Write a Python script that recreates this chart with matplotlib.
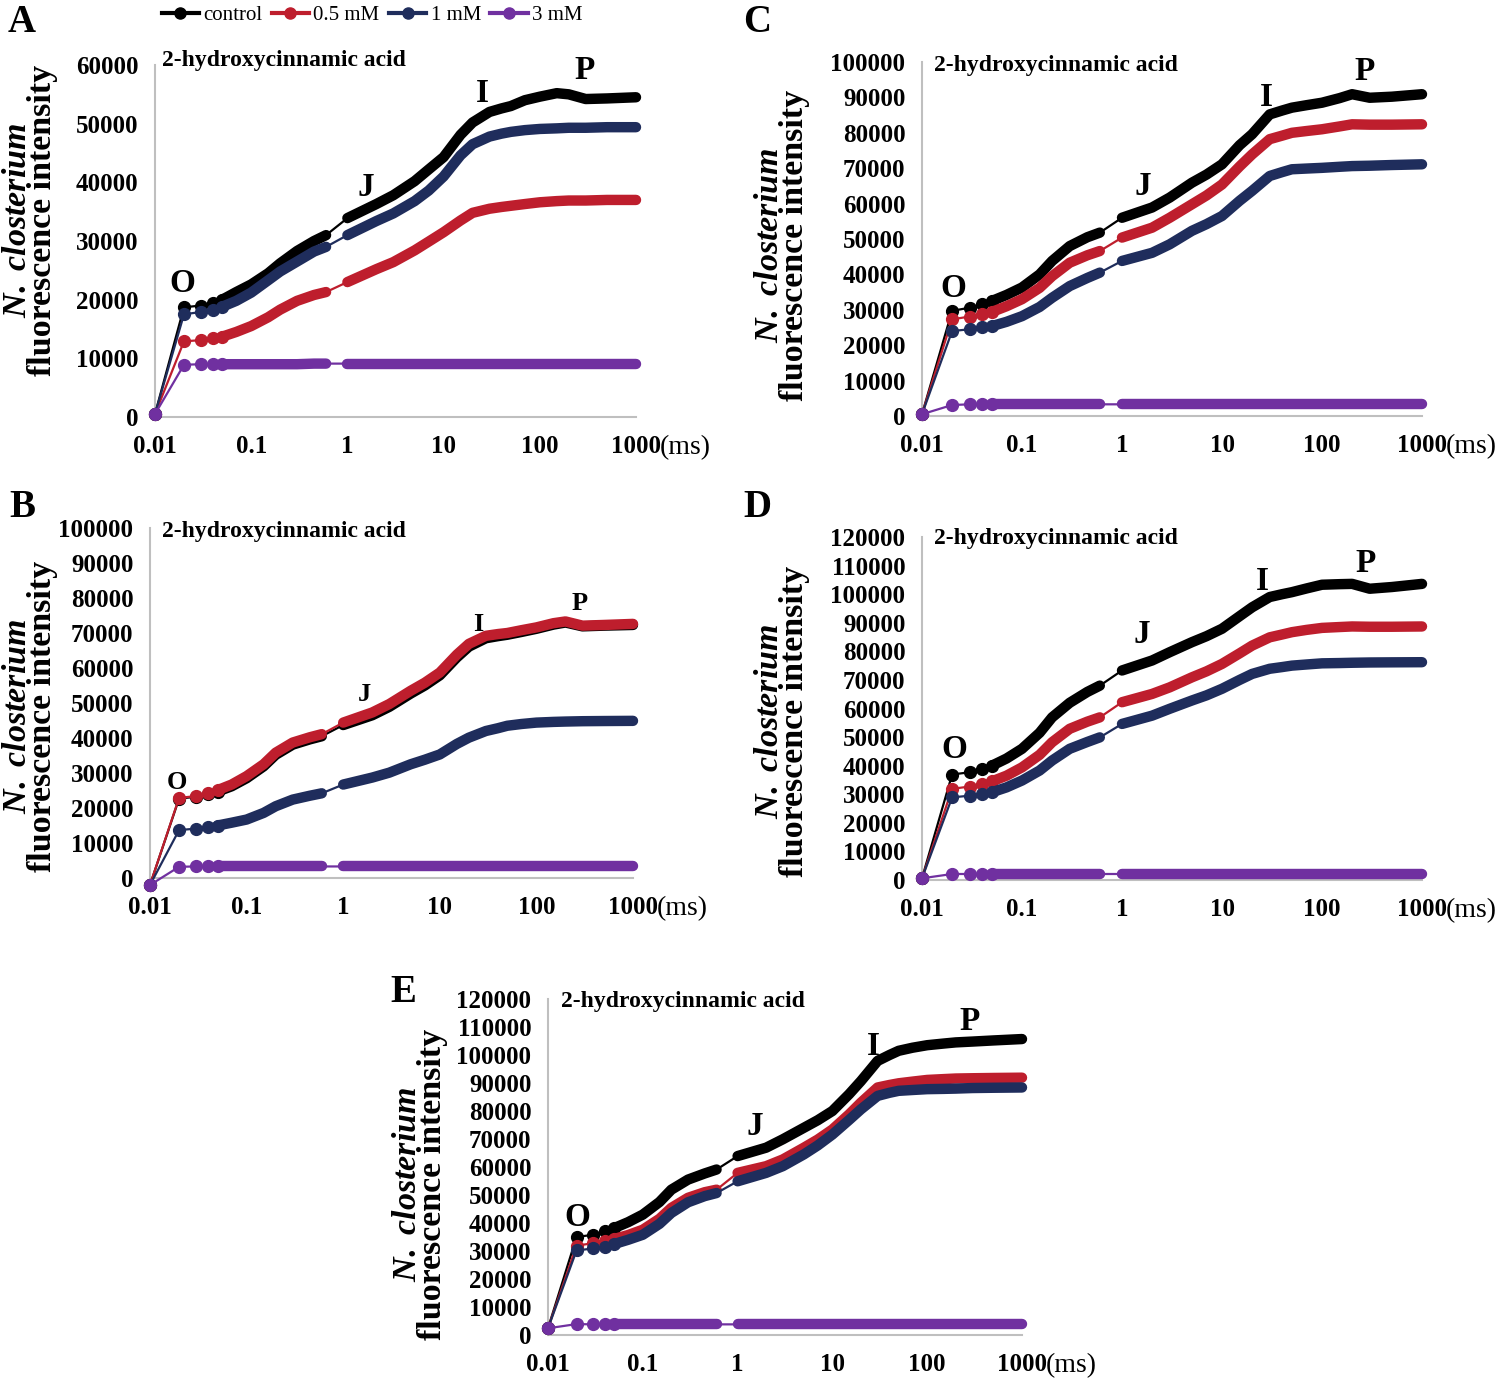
import numpy as np
import matplotlib
matplotlib.use("Agg")
import matplotlib.pyplot as plt
from matplotlib.lines import Line2D

plt.rcParams['font.family'] = ['Liberation Serif', 'DejaVu Serif']
plt.rcParams['mathtext.fontset'] = 'custom'
plt.rcParams['mathtext.it'] = 'Liberation Serif:italic:bold'
plt.rcParams['mathtext.rm'] = 'Liberation Serif:bold'

# sampling times of the OJIP transient (ms)
times = [0.01, 0.02, 0.03, 0.04, 0.05, 0.07, 0.1, 0.15, 0.2, 0.3, 0.45, 0.6,
         1, 2, 3, 5, 7, 10, 15, 20, 30, 40, 50, 70, 100, 150, 200, 300, 500, 1000]

treatments = ['control', '0.5 mM', '1 mM', '3 mM']
colors = ['#000000', '#BE1E2D', '#1F2D5C', '#7030A0']

A_control = [500, 18700, 19000, 19400, 20000, 21300, 22600, 24500, 26200, 28300, 30000, 31000,
             33900, 36300, 37800, 40200, 42200, 44300, 48100, 50200, 52000, 52600, 53000, 54000,
             54600, 55200, 55000, 54200, 54300, 54500]
A_05 = [500, 12900, 13100, 13400, 13700, 14500, 15500, 17000, 18300, 19800, 20800, 21300,
        23000, 25200, 26400, 28400, 29900, 31500, 33500, 34800, 35500, 35800, 36000, 36300,
        36600, 36800, 36900, 36900, 37000, 37000]
A_1 = [500, 17500, 17900, 18300, 18800, 19800, 21200, 23300, 24800, 26500, 28200, 29000,
       31000, 33400, 34700, 36800, 38600, 41000, 44600, 46500, 47800, 48300, 48600, 48900,
       49100, 49200, 49300, 49300, 49400, 49400]
A_3 = [500, 8900, 9000, 9000, 9000, 9000, 9000, 9000, 9000, 9000, 9100, 9100,
       9100, 9100, 9100, 9100, 9100, 9100, 9100, 9100, 9100, 9100, 9100, 9100,
       9100, 9100, 9100, 9100, 9100, 9100]

B_control = [-2000, 22700, 23200, 23900, 24700, 26200, 28500, 31900, 35200, 38100, 39600, 40500,
             43700, 46500, 48900, 52700, 55000, 57900, 63000, 66100, 68500, 69100, 69500, 70300,
             71200, 72400, 73000, 71900, 72100, 72300]
B_05 = [-2000, 22900, 23400, 24200, 25100, 26700, 29100, 32500, 35800, 38700, 40200, 41100,
        44400, 47300, 49700, 53500, 55800, 58700, 63800, 66900, 69200, 69700, 70000, 70800,
        71600, 72800, 73300, 72100, 72300, 72600]
B_1 = [-2000, 13700, 14100, 14500, 15000, 15800, 16700, 18600, 20500, 22400, 23500, 24200,
       26700, 28700, 30100, 32500, 33800, 35300, 38300, 40100, 42000, 42800, 43500, 44000,
       44400, 44600, 44700, 44800, 44850, 44900]
B_3 = [-2000, 3200, 3300, 3300, 3300, 3300, 3300, 3300, 3300, 3300, 3300, 3300,
       3300, 3300, 3300, 3300, 3300, 3300, 3300, 3300, 3300, 3300, 3300, 3300,
       3300, 3300, 3300, 3300, 3300, 3300]

C_control = [500, 29700, 30600, 31500, 32500, 34200, 36300, 40000, 43800, 48000, 50500, 51800,
             56000, 58900, 61700, 65900, 68200, 71100, 76500, 79600, 85200, 86300, 87100, 87800,
             88500, 89800, 90900, 89900, 90200, 90900]
C_05 = [500, 27300, 28100, 28700, 29400, 31000, 33000, 36200, 39500, 43300, 45400, 46600,
        50400, 53200, 56000, 59800, 62300, 65400, 70500, 73900, 78200, 79200, 80000, 80500,
        81000, 81800, 82400, 82300, 82300, 82400]
C_1 = [500, 24000, 24500, 25000, 25400, 26600, 28200, 30800, 33400, 36700, 39000, 40500,
       43800, 46100, 48500, 52300, 54200, 56500, 60800, 63600, 67800, 68900, 69700, 69900,
       70100, 70400, 70600, 70700, 70900, 71100]
C_3 = [500, 3100, 3300, 3300, 3300, 3300, 3300, 3300, 3300, 3300, 3300, 3300,
       3300, 3300, 3300, 3300, 3300, 3300, 3300, 3300, 3300, 3300, 3300, 3300,
       3300, 3300, 3300, 3300, 3300, 3300]

D_control = [600, 36900, 37700, 38900, 40000, 42500, 45900, 51500, 56900, 62000, 65800, 68000,
             73300, 76800, 79700, 83200, 85300, 87900, 92300, 95400, 99000, 100000, 100700, 102000,
             103300, 103500, 103600, 101900, 102500, 103600]
D_05 = [600, 31900, 32700, 33600, 34500, 36500, 39400, 43800, 48200, 52900, 55400, 56900,
        62200, 65100, 67400, 70900, 73000, 75600, 79300, 82000, 84900, 85900, 86700, 87500,
        88200, 88500, 88700, 88600, 88600, 88700]
D_1 = [600, 28900, 29500, 30100, 30700, 32400, 34800, 38300, 41800, 45900, 48300, 49900,
       54600, 57500, 59900, 62800, 64600, 66900, 70000, 72100, 73900, 74500, 75000, 75400,
       75800, 75900, 76000, 76100, 76150, 76200]
D_3 = [600, 2100, 2100, 2100, 2100, 2100, 2100, 2100, 2100, 2100, 2100, 2100,
       2100, 2100, 2100, 2100, 2100, 2100, 2100, 2100, 2100, 2100, 2100, 2100,
       2100, 2100, 2100, 2100, 2100, 2100]

E_control = [2400, 35000, 35800, 37000, 38200, 40300, 43000, 47500, 51900, 55500, 57700, 59100,
             63900, 66900, 69900, 74000, 76700, 80000, 86000, 90700, 97900, 100000, 101500, 102600,
             103500, 104100, 104500, 104800, 105200, 105700]
E_05 = [2400, 31900, 32800, 33400, 34300, 35700, 37600, 41500, 45400, 49000, 51000, 51900,
        57900, 60300, 62700, 66900, 69800, 73400, 78800, 83000, 88400, 89300, 89900, 90500,
        91100, 91400, 91600, 91700, 91800, 91900]
E_1 = [2400, 30200, 30900, 31600, 32500, 34000, 35800, 39700, 43600, 47400, 49600, 50700,
       54900, 57900, 60300, 64500, 67700, 71600, 76800, 80600, 85400, 86500, 87200, 87500,
       87800, 87900, 88000, 88200, 88300, 88400]
E_3 = [2400, 3900, 3800, 3800, 3800, 3800, 3800, 3800, 3800, 3800, 3800, 3800,
       3800, 3800, 3800, 3800, 3800, 3800, 3800, 3800, 3800, 3800, 3800, 3800,
       3800, 3800, 3800, 3800, 3800, 3800]

x_ticks = [0.01, 0.1, 1, 10, 100, 1000]
x_labels = ['0.01', '0.1', '1', '10', '100', '1000']

W, H = 1505, 1380
fig = plt.figure(figsize=(W / 100, H / 100), dpi=100)


def make_axes(x0, x1, y0, ytop):
    return fig.add_axes([x0 / W, 1 - y0 / H, (x1 - x0) / W, (y0 - ytop) / H])


def draw_panel(ax, series, ymax, letter, letter_xy, ylab_xy, title_xy, ojip, ojip_size=24):
    t = np.array(times)
    gap = times.index(1)
    for vals, c in zip(series, colors):
        v = np.array(vals)
        ax.plot(t, v, color=c, lw=1.6, clip_on=False, zorder=3)
        ax.plot(t[:5], v[:5], 'o', color=c, ms=8.5, clip_on=False, zorder=3)
        for a, b in [(4, gap), (gap, len(t))]:
            ax.plot(t[a:b], v[a:b], color=c, lw=7.5, solid_capstyle='round',
                    solid_joinstyle='round', clip_on=False, zorder=3)
    ax.set_xscale('log')
    ax.set_xlim(0.01, 1000)
    ax.set_ylim(0, ymax)
    ax.set_xticks(x_ticks)
    ax.set_xticklabels(x_labels)
    ax.minorticks_off()
    ax.set_yticks(np.arange(0, ymax + 1, 10000))
    ax.tick_params(length=0, labelsize=18)
    ax.tick_params(axis='x', pad=13)
    ax.tick_params(axis='y', pad=12)
    for lab in ax.get_xticklabels() + ax.get_yticklabels():
        lab.set_fontweight('bold')
    for s in ['top', 'right']:
        ax.spines[s].set_visible(False)
    for s in ['left', 'bottom']:
        ax.spines[s].set_color('#BFBFBF')
        ax.spines[s].set_linewidth(1.5)
    ax.patch.set_alpha(0)

    ax.text(title_xy[0], title_xy[1], '2-hydroxycinnamic acid', transform=ax.transAxes,
            fontsize=17, fontweight='bold', ha='left', va='center')
    ax.annotate('(ms)', xy=(1, 0), xycoords='axes fraction', xytext=(17, -22),
                textcoords='offset points', fontsize=20, ha='left', va='center')
    for lbl, (tx, ty) in zip('OJIP', ojip):
        ax.text(tx, ty, lbl, fontsize=ojip_size, fontweight='bold', ha='center', va='center')

    fig.text(letter_xy[0] / W, 1 - letter_xy[1] / H, letter, fontsize=28,
             fontweight='bold', ha='center', va='center')
    fig.text(ylab_xy[0] / W, 1 - ylab_xy[1] / H,
             r'$\mathit{N.\ closterium}$' + '\nfluorescence intensity',
             rotation=90, fontsize=24.5, fontweight='bold', ha='center', va='center',
             multialignment='center', linespacing=0.76)


axA = make_axes(155, 636, 417, 65)
draw_panel(axA, [A_control, A_05, A_1, A_3], 60000, 'A', (22, 22), (30, 220), (0.015, 1.014),
           [(0.019, 22800), (1.56, 39200), (25, 55200), (290, 59100)])

axC = make_axes(922, 1422, 416, 62)
draw_panel(axC, [C_control, C_05, C_1, C_3], 100000, 'C', (757, 22), (782, 245), (0.024, 0.99),
           [(0.0204, 35900), (1.62, 64700), (27.5, 90100), (269, 97200)])

axB = make_axes(150, 633, 878, 528)
draw_panel(axB, [B_control, B_05, B_1, B_3], 100000, 'B', (22, 508), (30, 716), (0.025, 0.991),
           [(0.019, 27400), (1.64, 52300), (24.8, 72300), (277, 78300)], ojip_size=19)

axD = make_axes(922, 1422, 880, 537)
draw_panel(axD, [D_control, D_05, D_1, D_3], 120000, 'D', (757, 508), (782, 721), (0.024, 0.997),
           [(0.0209, 45500), (1.585, 86000), (25.1, 104500), (275, 110800)])

axE = make_axes(548, 1022, 1335, 999)
draw_panel(axE, [E_control, E_05, E_1, E_3], 120000, 'E', (403, 992), (420, 1184), (0.027, 0.994),
           [(0.0202, 41800), (1.52, 74300), (26.8, 103200), (282, 112100)])

handles = [Line2D([], [], color=c, lw=3, marker='o', ms=8) for c in colors]
fig.legend(handles, treatments, loc='center', bbox_to_anchor=(372 / W, 1 - 15 / H),
           ncol=4, frameon=False, fontsize=15, handlelength=1.8, handletextpad=0.2,
           columnspacing=0.45)

fig.savefig('out.png', dpi=100)
